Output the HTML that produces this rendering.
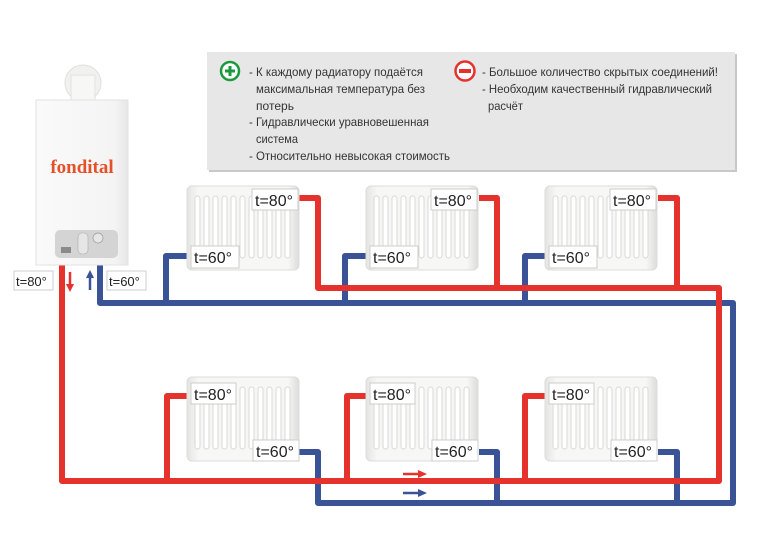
<!DOCTYPE html>
<html><head><meta charset="utf-8"><style>
body{margin:0;background:#fff}
svg{display:block}
.t{font-family:"Liberation Sans",sans-serif}
</style></head><body>
<svg width="770" height="550" viewBox="0 0 770 550" xmlns="http://www.w3.org/2000/svg">
<defs>
<linearGradient id="rg" x1="0" x2="1" y1="0" y2="0">
<stop offset="0" stop-color="#e4e4e2"/><stop offset="0.1" stop-color="#f7f7f5"/><stop offset="0.9" stop-color="#f7f7f5"/><stop offset="1" stop-color="#dcdcda"/>
</linearGradient>
<linearGradient id="bg" x1="0" x2="1"><stop offset="0" stop-color="#fafafa"/><stop offset="0.85" stop-color="#f4f4f4"/><stop offset="1" stop-color="#e6e6e6"/></linearGradient>
<g id="fins">
<rect x="0" y="0" width="5" height="62" rx="2.5" fill="#fff" stroke="#d8d8d6" stroke-width="1"/>
</g>
<g id="rad">
<rect x="0" y="0" width="112" height="84" rx="5" fill="url(#rg)" stroke="#dcdcda"/>
<use href="#fins" x="8" y="10"/><use href="#fins" x="17" y="10"/><use href="#fins" x="26" y="10"/><use href="#fins" x="35" y="10"/><use href="#fins" x="44" y="10"/><use href="#fins" x="53" y="10"/><use href="#fins" x="62" y="10"/><use href="#fins" x="71" y="10"/><use href="#fins" x="80" y="10"/><use href="#fins" x="89" y="10"/><use href="#fins" x="98" y="10"/>
</g>
</defs>

<!-- info box -->
<rect x="209" y="54" width="528" height="118" fill="#c8c8c8"/>
<rect x="207" y="52" width="528" height="118" fill="#e7e7e7"/>
<circle cx="230" cy="71" r="9" fill="#fff" stroke="#1a9a3c" stroke-width="2.5"/>
<path d="M225 71h10M230 66v10" stroke="#1a9a3c" stroke-width="3"/>
<circle cx="465" cy="71" r="9.5" fill="#fff" stroke="#e5322d" stroke-width="2.5"/>
<path d="M459 71h12" stroke="#e5322d" stroke-width="4"/>
<g class="t" font-size="12" fill="#333" lengthAdjust="spacingAndGlyphs">
<text x="249" y="76" textLength="174" lengthAdjust="spacingAndGlyphs">- К каждому радиатору подаётся</text>
<text x="256" y="93" textLength="169" lengthAdjust="spacingAndGlyphs">максимальная температура без</text>
<text x="256" y="110" textLength="38" lengthAdjust="spacingAndGlyphs">потерь</text>
<text x="249" y="126" textLength="180" lengthAdjust="spacingAndGlyphs">- Гидравлически уравновешенная</text>
<text x="256" y="143" textLength="42" lengthAdjust="spacingAndGlyphs">система</text>
<text x="249" y="160" textLength="201" lengthAdjust="spacingAndGlyphs">- Относительно невысокая стоимость</text>
<text x="482" y="76" textLength="236" lengthAdjust="spacingAndGlyphs">- Большое количество скрытых соединений!</text>
<text x="482" y="93" textLength="230" lengthAdjust="spacingAndGlyphs">- Необходим качественный гидравлический</text>
<text x="488" y="110" textLength="35" lengthAdjust="spacingAndGlyphs">расчёт</text>
</g>

<!-- pipes -->
<g fill="none" stroke-width="6" stroke-linejoin="round">
<polyline stroke="#3a5396" points="100,262 100,303 733,303 733,503 318,503 318,452 299,452"/>
<polyline stroke="#3a5396" points="187,256 166,256 166,303"/>
<polyline stroke="#3a5396" points="366,256 345,256 345,303"/>
<polyline stroke="#3a5396" points="545,256 525,256 525,303"/>
<polyline stroke="#3a5396" points="479,452 497,452 497,503"/>
<polyline stroke="#3a5396" points="658,452 677,452 677,503"/>
<polyline stroke="#e5322d" points="62,262 62,481 719,481 719,288 318,288 318,198 299,198"/>
<polyline stroke="#e5322d" points="479,198 497,198 497,288"/>
<polyline stroke="#e5322d" points="658,198 677,198 677,288"/>
<polyline stroke="#e5322d" points="187,396 167,396 167,481"/>
<polyline stroke="#e5322d" points="366,396 347,396 347,481"/>
<polyline stroke="#e5322d" points="545,396 525,396 525,481"/>
</g>

<!-- arrows -->
<path d="M403 474h16" stroke="#e5322d" stroke-width="2.5"/><path d="M427 474l-9 -4v8z" fill="#e5322d"/>
<path d="M403 493h16" stroke="#3a5396" stroke-width="2.5"/><path d="M427 493l-9 -4v8z" fill="#3a5396"/>
<path d="M70 272v14" stroke="#e5322d" stroke-width="2.5"/><path d="M70 292l-4 -8h8z" fill="#e5322d"/>
<path d="M90 290v-14" stroke="#3a5396" stroke-width="2.5"/><path d="M90 270l-4 8h8z" fill="#3a5396"/>

<!-- radiators -->
<use href="#rad" x="187" y="186"/>
<use href="#rad" x="366" y="186"/>
<use href="#rad" x="545" y="186"/>
<use href="#rad" x="187" y="377"/>
<use href="#rad" x="366" y="377"/>
<use href="#rad" x="545" y="377"/>

<g class="t" font-size="16" fill="#222">
<g stroke="#ccc" fill="#fff">
<rect x="252" y="189" width="46" height="21"/><rect x="431" y="189" width="46" height="21"/><rect x="610" y="189" width="46" height="21"/>
<rect x="191" y="246" width="48" height="22"/><rect x="370" y="246" width="48" height="22"/><rect x="549" y="246" width="48" height="22"/>
<rect x="191" y="383" width="45" height="21"/><rect x="370" y="383" width="45" height="21"/><rect x="549" y="383" width="45" height="21"/>
<rect x="253" y="440" width="46" height="21"/><rect x="432" y="440" width="46" height="21"/><rect x="611" y="440" width="46" height="21"/>
</g>
<text x="255" y="206">t=80°</text><text x="434" y="206">t=80°</text><text x="613" y="206">t=80°</text>
<text x="194" y="263">t=60°</text><text x="373" y="263">t=60°</text><text x="552" y="263">t=60°</text>
<text x="194" y="400">t=80°</text><text x="373" y="400">t=80°</text><text x="552" y="400">t=80°</text>
<text x="256" y="457">t=60°</text><text x="435" y="457">t=60°</text><text x="614" y="457">t=60°</text>
</g>

<!-- boiler -->
<circle cx="83" cy="83" r="18" fill="#f1f1ef" stroke="#e0e0de"/>
<rect x="71" y="75" width="24" height="28" fill="#f7f7f5" stroke="#e2e2e0"/>
<rect x="36" y="100" width="92" height="165" fill="url(#bg)" stroke="#e2e2e2"/>
<text x="82" y="173" text-anchor="middle" font-family="Liberation Serif,serif" font-weight="bold" font-size="19" fill="#e4502a">fondital</text>
<rect x="55" y="230" width="63" height="28" rx="5" fill="#d4d4d4"/>
<rect x="61" y="247" width="10" height="6" fill="#8a8a8a"/>
<rect x="78" y="233" width="10" height="21" rx="4" fill="#e6e6e6" stroke="#aaa" stroke-width=".6"/>
<circle cx="98" cy="238" r="5" fill="#e6e6e6" stroke="#999" stroke-width=".7"/>
<g class="t" font-size="13" fill="#222">
<rect x="14" y="271" width="39" height="19" fill="#fff" stroke="#ccc"/>
<text x="16" y="286">t=80°</text>
<rect x="107" y="271" width="39" height="19" fill="#fff" stroke="#ccc"/>
<text x="109" y="286">t=60°</text>
</g>
</svg>
</body></html>
